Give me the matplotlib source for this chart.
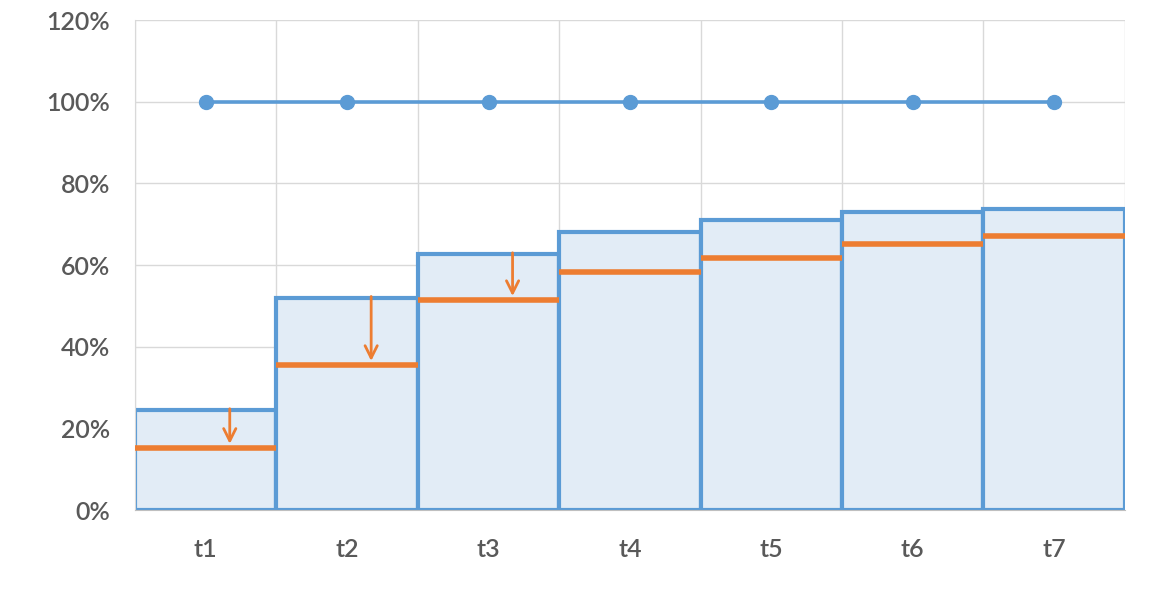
import numpy as np
import matplotlib.pyplot as plt
from matplotlib.ticker import PercentFormatter

# Data ------------------------------------------------------------------------
categories = ["t1", "t2", "t3", "t4", "t5", "t6", "t7"]
bar_values = [24.5, 52, 62.7, 68, 71, 73, 73.7]
orange_values = [15.2, 35.5, 51.4, 58.3, 61.7, 65.1, 67.1]
line_values = [100, 100, 100, 100, 100, 100, 100]
arrow_idx = [0, 1, 2]

BLUE = "#5B9BD5"
FILL = "#E2ECF6"
ORANGE = "#ED7D31"
GRID = "#D9D9D9"
TEXT = "#595959"

plt.rcParams["font.family"] = ["Lato", "DejaVu Sans"]

# Canvas ----------------------------------------------------------------------
fig = plt.figure(figsize=(11.7, 5.91), dpi=100)
ax = fig.add_axes([0.1154, 0.137, 0.846, 0.829])
x = np.arange(len(categories))

ax.bar(x, bar_values, width=1.0, color=FILL, edgecolor=BLUE, linewidth=3.0, zorder=2)
ax.hlines(orange_values, x - 0.5, x + 0.5, color=ORANGE, linewidth=4.0, zorder=3)
ax.plot(x, line_values, color=BLUE, linewidth=2.6, marker="o", markersize=10, zorder=4)

# Arrows showing the drop -----------------------------------------------------
for i in arrow_idx:
    xa = x[i] + 0.17
    ax.annotate("", xy=(xa, orange_values[i] + 1.0), xytext=(xa, bar_values[i] + 0.3),
                arrowprops=dict(arrowstyle="->", color=ORANGE, lw=2.0,
                                mutation_scale=22, shrinkA=0, shrinkB=0),
                zorder=5)

# Axes styling ----------------------------------------------------------------
ax.set_xlim(-0.5, len(categories) - 0.5)
ax.set_ylim(0, 120)
ax.set_yticks(np.arange(0, 121, 20))
ax.yaxis.set_major_formatter(PercentFormatter(decimals=0))
ax.set_xticks(x)
ax.set_xticklabels(categories)
ax.set_xticks(np.arange(-0.5, len(categories), 1.0), minor=True)
ax.grid(True, axis="y", color=GRID, linewidth=1.0, zorder=0)
ax.grid(True, axis="x", which="minor", color=GRID, linewidth=1.0, zorder=0)
ax.set_axisbelow(True)
ax.tick_params(axis="both", which="both", length=0, labelsize=18, labelcolor=TEXT)
ax.tick_params(axis="x", pad=20)
ax.tick_params(axis="y", pad=18)
for lab in ax.get_xticklabels() + ax.get_yticklabels():
    lab.set_fontweight("semibold")
for side in ["top", "right"]:
    ax.spines[side].set_visible(False)
ax.spines["left"].set_color(GRID)
ax.spines["bottom"].set_color("#BFBFBF")

fig.savefig("out.png", dpi=100, facecolor="white")
plt.close(fig)
